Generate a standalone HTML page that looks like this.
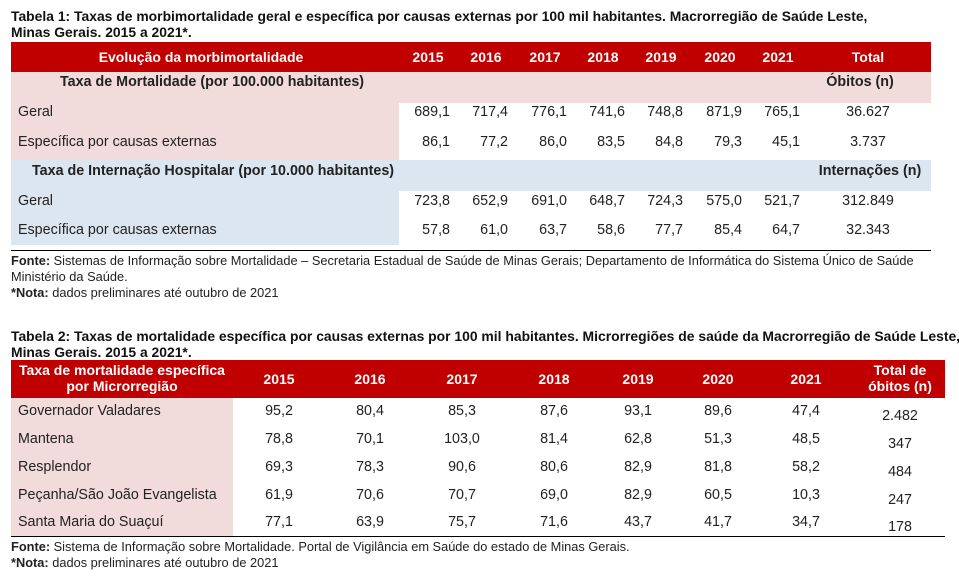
<!DOCTYPE html>
<html><head><meta charset="utf-8">
<style>
body{margin:0;width:959px;height:577px;background:#fff;font-family:"Liberation Sans",sans-serif;color:#222;position:relative;overflow:hidden}
.a{position:absolute;white-space:nowrap}
.t{font-weight:bold;font-size:13.9px;color:#111}
.h{font-weight:bold;color:#fff;font-size:14px}
.c{font-size:14.3px}
.s{font-size:12.8px}
</style></head><body>
<div class="a t" style="left:11px;top:8px;line-height:16px">Tabela 1: Taxas de morbimortalidade geral e específica por causas externas por 100 mil habitantes. Macrorregião de Saúde Leste,<br>Minas Gerais. 2015 a 2021*.</div>
<div id="t1"></div>
<div class="a s" style="left:11px;top:253px;line-height:16px"><b>Fonte:</b> Sistemas de Informação sobre Mortalidade – Secretaria Estadual de Saúde de Minas Gerais; Departamento de Informática do Sistema Único de Saúde<br>Ministério da Saúde.<br><b>*Nota:</b> dados preliminares até outubro de 2021</div>
<div class="a t" style="left:11px;top:328px;line-height:16px">Tabela 2: Taxas de mortalidade específica por causas externas por 100 mil habitantes. Microrregiões de saúde da Macrorregião de Saúde Leste,<br>Minas Gerais. 2015 a 2021*.</div>
<div id="t2"></div>
<div class="a s" style="left:11px;top:539px;line-height:16px"><b>Fonte:</b> Sistema de Informação sobre Mortalidade. Portal de Vigilância em Saúde do estado de Minas Gerais.<br><b>*Nota:</b> dados preliminares até outubro de 2021</div>
<script>
const years=["2015","2016","2017","2018","2019","2020","2021"];
const t1Rows=["Geral","Específica por causas externas","Geral","Específica por causas externas"];
const t1Vals=[["689,1","717,4","776,1","741,6","748,8","871,9","765,1"],["86,1","77,2","86,0","83,5","84,8","79,3","45,1"],["723,8","652,9","691,0","648,7","724,3","575,0","521,7"],["57,8","61,0","63,7","58,6","77,7","85,4","64,7"]];
const t1Tot=["36.627","3.737","312.849","32.343"];
const t2Rows=["Governador Valadares","Mantena","Resplendor","Peçanha/São João Evangelista","Santa Maria do Suaçuí"];
const t2Vals=[["95,2","80,4","85,3","87,6","93,1","89,6","47,4"],["78,8","70,1","103,0","81,4","62,8","51,3","48,5"],["69,3","78,3","90,6","80,6","82,9","81,8","58,2"],["61,9","70,6","70,7","69,0","82,9","60,5","10,3"],["77,1","63,9","75,7","71,6","43,7","41,7","34,7"]];
const t2Tot=["2.482","347","484","247","178"];
function box(x,y,w,h,bg,name){const d=document.createElement('div');d.className='a';d.style.cssText=`left:${x}px;top:${y}px;width:${w}px;height:${h}px;background:${bg}`;


document.body.appendChild(d);return d;}
function txt(x,y,w,s,cls,name,align){const d=document.createElement('div');d.className='a '+cls;d.textContent=s;d.style.cssText=`left:${x}px;top:${y}px;width:${w}px;line-height:16px;text-align:${align||'left'}`;


document.body.appendChild(d);return d;}
// Table 1
box(11,42,920,30,'#c00000','table1-header');
txt(11,49,380,'Evolução da morbimortalidade','h','header-label','center');
const x1=[428,486,545,603,661,720,778];
years.forEach((y,i)=>txt(x1[i]-25,49,50,y,'h','header-year','center'));
txt(818,49,100,'Total','h','header-total','center');
box(11,72,920,31,'#f2dcdb','mortality-section');
box(11,103,388,57,'#f2dcdb','mortality-labels');
box(11,160,920,31,'#dce6f1','hospital-section');
box(11,191,388,54,'#dce6f1','hospital-labels');
txt(60,74,420,'Taxa de Mortalidade (por 100.000 habitantes)','c','mortality-title').style.fontWeight='bold';
txt(800,74,120,'Óbitos (n)','c','obitos-label','center').style.fontWeight='bold';
txt(32,163,420,'Taxa de Internação Hospitalar (por 10.000 habitantes)','c','hospital-title').style.fontWeight='bold';
txt(800,163,140,'Internações (n)','c','internacoes-label','center').style.fontWeight='bold';
const y1=[104,134,193,222];
t1Rows.forEach((r,i)=>{txt(18,y1[i],300,r,'c','row-label');
t1Vals[i].forEach((v,j)=>txt(x1[j]-38,y1[i],60,v,'c','cell-value','right'));
txt(818,y1[i],100,t1Tot[i],'c','cell-total','center');});
box(11,250,920,1,'#000','table1-bottom-rule');
// Table 2
box(11,360,934,38,'#c00000','table2-header');
txt(11,362,222,'Taxa de mortalidade específica','h','header-label','center');
txt(11,378,222,'por Microrregião','h','header-label2','center');
const x2=[279,370,462,554,638,718,806];
years.forEach((y,i)=>txt(x2[i]-25,371,50,y,'h','header-year','center'));
txt(850,362,100,'Total  de','h','header-total','center');
txt(850,378,100,'óbitos (n)','h','header-total2','center');
box(11,398,222,138,'#f2dcdb','table2-labels');
const y2=[403,431,459,487,514];
t2Rows.forEach((r,i)=>{txt(18,y2[i],220,r,'c','row-label');
t2Vals[i].forEach((v,j)=>txt(x2[j]-30,y2[i],60,v,'c','cell-value','center'));
txt(850,y2[i]+5,100,t2Tot[i],'c','cell-total','center');});
box(11,536,934,1,'#000','table2-bottom-rule');
</script>
</body></html>
